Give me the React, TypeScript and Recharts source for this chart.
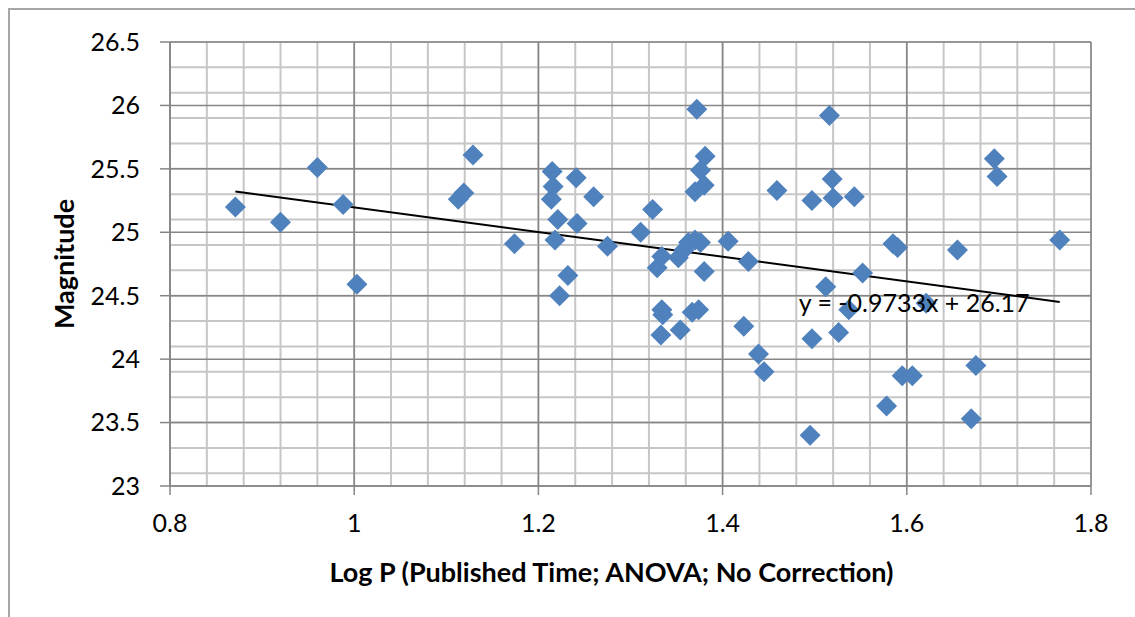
import React from 'react';
import {
  CartesianGrid,
  Label,
  ReferenceDot,
  ReferenceLine,
  Scatter,
  ScatterChart,
  XAxis,
  YAxis,
} from 'recharts';

// log period (published time) against magnitude
const logP = [
  0.871, 0.92, 0.96, 0.988, 1.003, 1.113, 1.119, 1.129, 1.174, 1.215,
  1.216, 1.214, 1.241, 1.26, 1.221, 1.242, 1.218, 1.232, 1.223, 1.275,
  1.311, 1.324, 1.372, 1.381, 1.376, 1.38, 1.37, 1.334, 1.329, 1.352,
  1.358, 1.363, 1.37, 1.376, 1.38, 1.406, 1.428, 1.334, 1.335, 1.333,
  1.354, 1.367, 1.374, 1.423, 1.439, 1.445, 1.516, 1.459, 1.497, 1.519,
  1.52, 1.543, 1.585, 1.59, 1.655, 1.695, 1.698, 1.766, 1.552, 1.512,
  1.537, 1.621, 1.497, 1.526, 1.595, 1.606, 1.675, 1.578, 1.67, 1.495,
];
const magnitude = [
  25.2, 25.08, 25.51, 25.22, 24.59, 25.26, 25.31, 25.61, 24.91, 25.48,
  25.36, 25.26, 25.43, 25.28, 25.1, 25.07, 24.94, 24.66, 24.5, 24.89,
  25.0, 25.18, 25.97, 25.6, 25.49, 25.37, 25.32, 24.81, 24.72, 24.8,
  24.86, 24.92, 24.94, 24.92, 24.69, 24.93, 24.77, 24.39, 24.35, 24.19,
  24.23, 24.37, 24.39, 24.26, 24.04, 23.9, 25.92, 25.33, 25.25, 25.42,
  25.27, 25.28, 24.91, 24.88, 24.86, 25.58, 25.44, 24.94, 24.68, 24.57,
  24.39, 24.44, 24.16, 24.21, 23.87, 23.87, 23.95, 23.63, 23.53, 23.4,
];

const xTicks = [0.8, 1, 1.2, 1.4, 1.6, 1.8];
const yTicks = [23, 23.5, 24, 24.5, 25, 25.5, 26, 26.5];

// linear trend
const slope = -0.9733;
const intercept = 26.17;
const trendX = [0.871, 1.766];
const trendLabel = 'y = -0.9733x + 26.17';

const points = logP.map((x, i) => ({ x, y: magnitude[i] }));
const trend = trendX.map((x) => ({ x, y: slope * x + intercept }));

const steps = (from: number, to: number, step: number) => {
  const out: number[] = [];
  const n = Math.round((to - from) / step);
  for (let i = 0; i <= n; i++) out.push(Number((from + i * step).toFixed(3)));
  return out;
};

const xMinor = steps(0.8, 1.8, 0.04);
const yMinor = steps(23, 26.5, 0.1);

const Diamond = (props: any) => {
  const { cx, cy } = props;
  const r = 10.5;
  return (
    <path
      d={`M${cx},${cy - r}L${cx + r},${cy}L${cx},${cy + r}L${cx - r},${cy}Z`}
      fill="#4F81BD"
    />
  );
};

const axisColor = '#868686';
const tickStyle = { fill: '#000', fontSize: 25 };

export default function App() {
  return (
    <div
      style={{
        position: 'absolute',
        left: 0,
        top: 0,
        width: 1135,
        height: 617,
        overflow: 'hidden',
        background: '#fff',
        fontFamily: 'Lato, sans-serif',
      }}
    >
      <div
        style={{
          position: 'absolute',
          left: 8,
          top: 8,
          width: 1200,
          height: 700,
          border: '2px solid #a6a6a6',
        }}
      />
      <ScatterChart
        width={1135}
        height={617}
        margin={{ top: 42, right: 44, left: 50, bottom: 31 }}
        style={{ position: 'absolute', left: 0, top: 0 }}
      >
        <CartesianGrid
          verticalValues={xMinor}
          horizontalValues={yMinor}
          stroke="#c6c6c6"
          strokeWidth={2}
          fill="none"
        />
        <CartesianGrid
          verticalValues={xTicks}
          horizontalValues={yTicks}
          stroke={axisColor}
          strokeWidth={1.5}
          fill="none"
        />
        <XAxis
          type="number"
          dataKey="x"
          domain={[0.8, 1.8]}
          ticks={xTicks}
          tickFormatter={(v) => String(v)}
          allowDataOverflow
          height={100}
          tickSize={9}
          tickMargin={19}
          tick={tickStyle}
          stroke={axisColor}
          strokeWidth={1.5}
        >
          <Label
            value="Log P (Published Time; ANOVA; No Correction)"
            position="insideBottom"
            offset={4}
            dx={-19}
            style={{ fontWeight: 700, fontSize: 27, fill: '#000' }}
          />
        </XAxis>
        <YAxis
          type="number"
          dataKey="y"
          domain={[23, 26.5]}
          ticks={yTicks}
          allowDataOverflow
          width={120}
          tickSize={10}
          tickMargin={20}
          tick={tickStyle}
          stroke={axisColor}
          strokeWidth={1.5}
        >
          <Label
            value="Magnitude"
            angle={-90}
            position="insideLeft"
            offset={14}
            style={{ fontWeight: 700, fontSize: 27, fill: '#000', textAnchor: 'middle' }}
          />
        </YAxis>
        <ReferenceLine
          segment={trend}
          stroke="#000"
          strokeWidth={2}
        />
        <Scatter data={points} shape={<Diamond />} isAnimationActive={false} />
        <ReferenceDot
          x={1.608}
          y={24.44}
          r={0}
          fill="none"
          stroke="none"
          label={{ value: trendLabel, position: 'center', fontSize: 25, fill: '#000' }}
        />
      </ScatterChart>
    </div>
  );
}
